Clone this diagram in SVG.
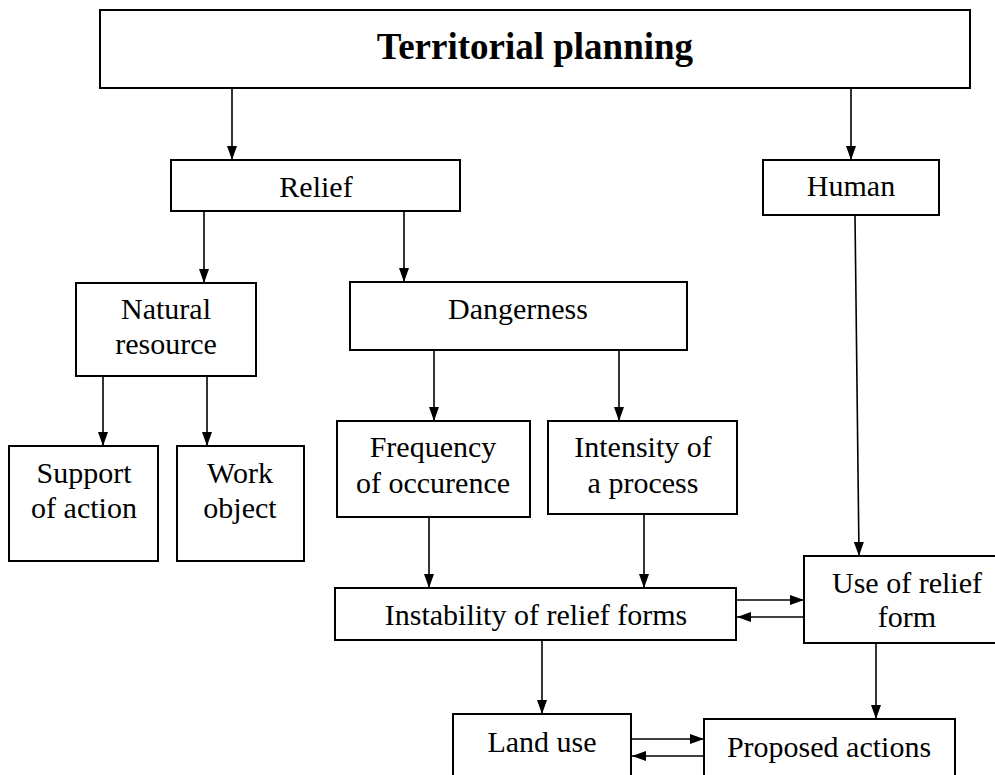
<svg xmlns="http://www.w3.org/2000/svg" width="995" height="775" viewBox="0 0 995 775">
<style>
.box{fill:#fff;stroke:#000;stroke-width:2}
.t{font-family:"Liberation Serif","Times New Roman",serif;font-size:30px;fill:#000;text-anchor:middle}
.title{font-family:"Liberation Serif","Times New Roman",serif;font-size:37px;font-weight:bold;fill:#000;text-anchor:middle}
.c{stroke:#000;stroke-width:1.6;fill:none;marker-end:url(#ah)}
</style>
<defs>
<marker id="ah" markerUnits="userSpaceOnUse" markerWidth="14" markerHeight="10" refX="14" refY="5" orient="auto">
<path d="M0,0 L14,5 L0,10 z" fill="#000"/>
</marker>
</defs>
<rect width="995" height="775" fill="#fff"/>
<g id="connectors">
<line class="c" x1="232" y1="88" x2="232" y2="160"/>
<line class="c" x1="851" y1="88" x2="851" y2="160"/>
<line class="c" x1="204" y1="211" x2="204" y2="283"/>
<line class="c" x1="404" y1="211" x2="404" y2="282"/>
<line class="c" x1="103" y1="376" x2="103" y2="446"/>
<line class="c" x1="207" y1="376" x2="207" y2="446"/>
<line class="c" x1="434" y1="350" x2="434" y2="421"/>
<line class="c" x1="619" y1="350" x2="619" y2="421"/>
<line class="c" x1="429" y1="517" x2="429" y2="588"/>
<line class="c" x1="644" y1="514" x2="644" y2="588"/>
<line class="c" x1="855" y1="215" x2="859" y2="556"/>
<line class="c" x1="735" y1="600" x2="804" y2="600"/>
<line class="c" x1="804" y1="617" x2="737" y2="617"/>
<line class="c" x1="542" y1="640" x2="542" y2="714"/>
<line class="c" x1="876" y1="643" x2="876" y2="719"/>
<line class="c" x1="632" y1="739" x2="704" y2="739"/>
<line class="c" x1="704" y1="756" x2="632" y2="756"/>
</g>
<g id="territorial-planning">
<rect class="box" x="100" y="10" width="870" height="78"/>
<text class="title" x="535" y="59">Territorial planning</text>
</g>
<g id="relief">
<rect class="box" x="171" y="160" width="289" height="51"/>
<text class="t" x="316" y="197">Relief</text>
</g>
<g id="human">
<rect class="box" x="763" y="160" width="176" height="55"/>
<text class="t" x="851" y="196">Human</text>
</g>
<g id="natural-resource">
<rect class="box" x="76" y="283" width="180" height="93"/>
<text class="t" x="166" y="319">Natural</text>
<text class="t" x="166" y="354">resource</text>
</g>
<g id="dangerness">
<rect class="box" x="350" y="282" width="337" height="68"/>
<text class="t" x="518" y="319">Dangerness</text>
</g>
<g id="support-of-action">
<rect class="box" x="9" y="446" width="149" height="115"/>
<text class="t" x="84" y="483">Support</text>
<text class="t" x="84" y="518">of action</text>
</g>
<g id="work-object">
<rect class="box" x="177" y="446" width="127" height="115"/>
<text class="t" x="240" y="483">Work</text>
<text class="t" x="240" y="518">object</text>
</g>
<g id="frequency">
<rect class="box" x="337" y="421" width="193" height="96"/>
<text class="t" x="433" y="457">Frequency</text>
<text class="t" x="433" y="493">of occurence</text>
</g>
<g id="intensity">
<rect class="box" x="548" y="421" width="189" height="93"/>
<text class="t" x="643" y="457">Intensity of</text>
<text class="t" x="643" y="493">a process</text>
</g>
<g id="instability">
<rect class="box" x="335" y="588" width="401" height="52"/>
<text class="t" x="536" y="625">Instability of relief forms</text>
</g>
<g id="use-of-relief-form">
<rect class="box" x="804" y="556" width="210" height="87"/>
<text class="t" x="907" y="593">Use of relief</text>
<text class="t" x="907" y="627">form</text>
</g>
<g id="land-use">
<rect class="box" x="453" y="714" width="178" height="80"/>
<text class="t" x="542" y="752">Land use</text>
</g>
<g id="proposed-actions">
<rect class="box" x="704" y="719" width="251" height="80"/>
<text class="t" x="829" y="757">Proposed actions</text>
</g>
</svg>
